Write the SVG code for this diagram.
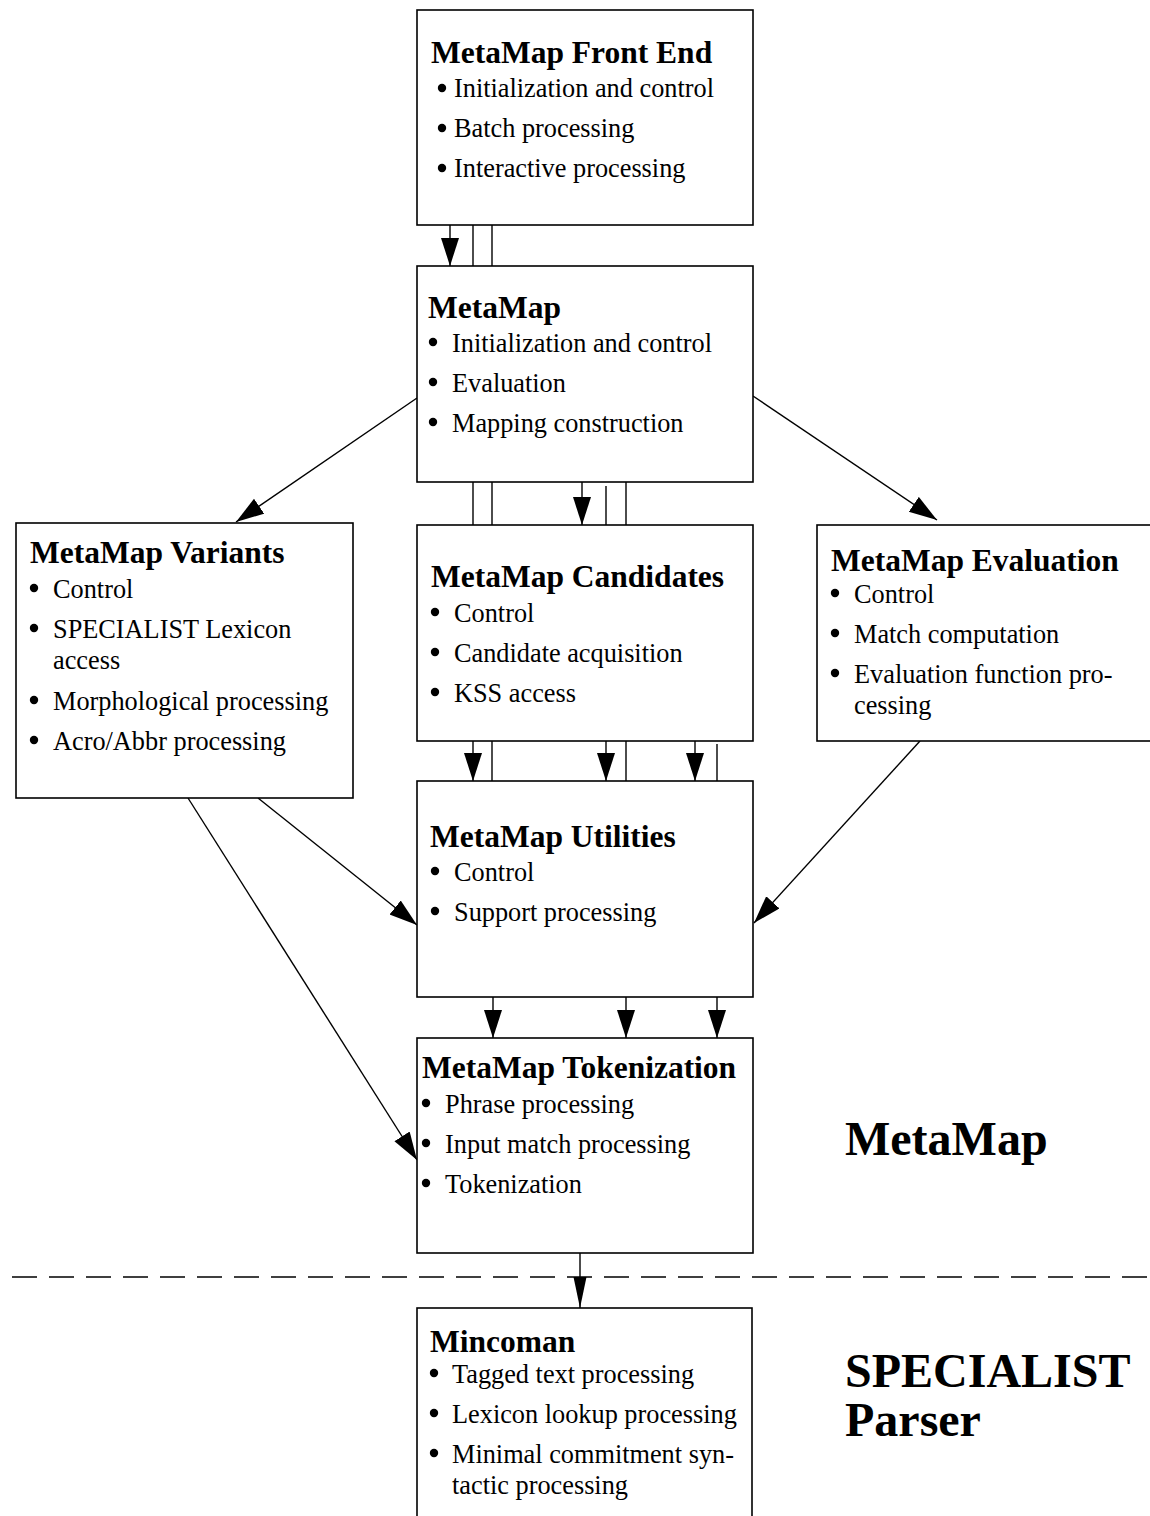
<svg xmlns="http://www.w3.org/2000/svg" width="1150" height="1516" viewBox="0 0 1150 1516">
<style>
.box{fill:#fff;stroke:#000;stroke-width:1.6}
.t{font-family:"Liberation Serif","Times New Roman",serif;font-weight:bold;font-size:31.5px;fill:#000}
.b{font-family:"Liberation Serif","Times New Roman",serif;font-size:26.3px;fill:#000}
.big{font-family:"Liberation Serif","Times New Roman",serif;font-weight:bold;font-size:48px;fill:#000}
.d{fill:#000}
.c{stroke:#000;stroke-width:1.4;fill:none}
.a{stroke:#000;stroke-width:1.4;fill:none;marker-end:url(#ah)}
</style>
<defs>
<marker id="ah" markerUnits="userSpaceOnUse" markerWidth="30" markerHeight="20" refX="28" refY="9" orient="auto">
<path d="M0,0 L28,9 L0,18 z" fill="#000"/>
</marker>
<marker id="ah2" markerUnits="userSpaceOnUse" markerWidth="34" markerHeight="16" refX="31" refY="6.5" orient="auto">
<path d="M0,0 L31,6.5 L0,13 z" fill="#000"/>
</marker>
</defs>
<rect width="1150" height="1516" fill="#fff"/>

<g id="connectors">
<line class="a" x1="450" y1="225" x2="450" y2="266"/>
<line class="c" x1="473" y1="225" x2="473" y2="266"/>
<line class="c" x1="492" y1="225" x2="492" y2="266"/>

<line class="c" x1="473" y1="482" x2="473" y2="525"/>
<line class="c" x1="492" y1="482" x2="492" y2="525"/>
<line class="a" x1="582" y1="482" x2="582" y2="525"/>
<line class="c" x1="606" y1="486" x2="606" y2="525"/>
<line class="c" x1="626" y1="482" x2="626" y2="525"/>

<line class="a" x1="473" y1="741" x2="473" y2="781"/>
<line class="c" x1="492" y1="741" x2="492" y2="781"/>
<line class="a" x1="606" y1="741" x2="606" y2="781"/>
<line class="c" x1="626" y1="741" x2="626" y2="781"/>
<line class="a" x1="695" y1="741" x2="695" y2="781"/>
<line class="c" x1="717" y1="744" x2="717" y2="781"/>

<line class="a" x1="493" y1="997" x2="493" y2="1038"/>
<line class="a" x1="626" y1="997" x2="626" y2="1038"/>
<line class="a" x1="717" y1="997" x2="717" y2="1038"/>

<line class="a" x1="417" y1="398" x2="236" y2="522"/>
<line class="a" x1="753" y1="396" x2="937" y2="520"/>
<line class="a" x1="258" y1="798" x2="417" y2="925"/>
<line class="a" x1="188" y1="798" x2="417" y2="1160"/>
<line class="a" x1="920" y1="741" x2="754" y2="923"/>

<line class="c" x1="580" y1="1253" x2="580" y2="1308" style="marker-end:url(#ah2)"/>
<line x1="12" y1="1277" x2="1150" y2="1277" stroke="#000" stroke-width="1.4" stroke-dasharray="25 12"/>
</g>

<g id="frontend">
<rect class="box" x="417" y="10" width="336" height="215"/>
<text class="t" x="431" y="63">MetaMap Front End</text>
<circle class="d" cx="442" cy="88" r="4.2"/><text class="b" x="454" y="97">Initialization and control</text>
<circle class="d" cx="442" cy="128" r="4.2"/><text class="b" x="454" y="137">Batch processing</text>
<circle class="d" cx="442" cy="168" r="4.2"/><text class="b" x="454" y="177">Interactive processing</text>
</g>

<g id="metamap">
<rect class="box" x="417" y="266" width="336" height="216"/>
<text class="t" x="428" y="318">MetaMap</text>
<circle class="d" cx="433" cy="342" r="4.2"/><text class="b" x="452" y="352">Initialization and control</text>
<circle class="d" cx="433" cy="382" r="4.2"/><text class="b" x="452" y="392">Evaluation</text>
<circle class="d" cx="433" cy="422" r="4.2"/><text class="b" x="452" y="432">Mapping construction</text>
</g>

<g id="variants">
<rect class="box" x="16" y="523" width="337" height="275"/>
<text class="t" x="30" y="563">MetaMap Variants</text>
<circle class="d" cx="34" cy="588" r="4.2"/><text class="b" x="53" y="598">Control</text>
<circle class="d" cx="34" cy="628" r="4.2"/><text class="b" x="53" y="638">SPECIALIST Lexicon</text>
<text class="b" x="53" y="669">access</text>
<circle class="d" cx="34" cy="700" r="4.2"/><text class="b" x="53" y="710">Morphological processing</text>
<circle class="d" cx="34" cy="740" r="4.2"/><text class="b" x="53" y="750">Acro/Abbr processing</text>
</g>

<g id="candidates">
<rect class="box" x="417" y="525" width="336" height="216"/>
<text class="t" x="431" y="587">MetaMap Candidates</text>
<circle class="d" cx="435" cy="612" r="4.2"/><text class="b" x="454" y="622">Control</text>
<circle class="d" cx="435" cy="652" r="4.2"/><text class="b" x="454" y="662">Candidate acquisition</text>
<circle class="d" cx="435" cy="692" r="4.2"/><text class="b" x="454" y="702">KSS access</text>
</g>

<g id="evaluation">
<rect class="box" x="817" y="525" width="345" height="216"/>
<text class="t" x="831" y="571">MetaMap Evaluation</text>
<circle class="d" cx="835" cy="593" r="4.2"/><text class="b" x="854" y="603">Control</text>
<circle class="d" cx="835" cy="633" r="4.2"/><text class="b" x="854" y="643">Match computation</text>
<circle class="d" cx="835" cy="673" r="4.2"/><text class="b" x="854" y="683">Evaluation function pro-</text>
<text class="b" x="854" y="714">cessing</text>
</g>

<g id="utilities">
<rect class="box" x="417" y="781" width="336" height="216"/>
<text class="t" x="430" y="847">MetaMap Utilities</text>
<circle class="d" cx="435" cy="871" r="4.2"/><text class="b" x="454" y="881">Control</text>
<circle class="d" cx="435" cy="911" r="4.2"/><text class="b" x="454" y="921">Support processing</text>
</g>

<g id="tokenization">
<rect class="box" x="417" y="1038" width="336" height="215"/>
<text class="t" x="422" y="1078">MetaMap Tokenization</text>
<circle class="d" cx="426" cy="1103" r="4.2"/><text class="b" x="445" y="1113">Phrase processing</text>
<circle class="d" cx="426" cy="1143" r="4.2"/><text class="b" x="445" y="1153">Input match processing</text>
<circle class="d" cx="426" cy="1183" r="4.2"/><text class="b" x="445" y="1193">Tokenization</text>
</g>

<g id="mincoman">
<rect class="box" x="417" y="1308" width="335" height="230"/>
<text class="t" x="430" y="1352">Mincoman</text>
<circle class="d" cx="434" cy="1373" r="4.2"/><text class="b" x="452" y="1383">Tagged text processing</text>
<circle class="d" cx="434" cy="1413" r="4.2"/><text class="b" x="452" y="1423">Lexicon lookup processing</text>
<circle class="d" cx="434" cy="1453" r="4.2"/><text class="b" x="452" y="1463">Minimal commitment syn-</text>
<text class="b" x="452" y="1494">tactic processing</text>
</g>

<g id="labels">
<text class="big" x="845" y="1155">MetaMap</text>
<text class="big" x="845" y="1387">SPECIALIST</text>
<text class="big" x="845" y="1436">Parser</text>
</g>
</svg>
